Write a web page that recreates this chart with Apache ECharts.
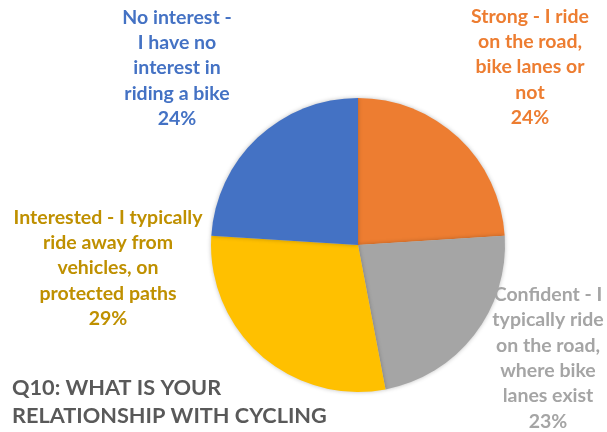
<!DOCTYPE html>
<html>
<head>
<meta charset="utf-8">
<script src="https://cdn.jsdelivr.net/npm/echarts@6/dist/echarts.min.js"></script>
<style>
  html, body { margin: 0; padding: 0; background: #fff; }
  #chart { width: 607px; height: 432px; }
</style>
</head>
<body>
<div id="chart"></div>
<script>
// slices, clockwise from 12 o'clock
const categories = [
  'Strong - I ride\non the road,\nbike lanes or\nnot',
  'Confident - I\ntypically ride\non the road,\nwhere bike\nlanes exist',
  'Interested - I typically\nride away from\nvehicles, on\nprotected paths',
  'No interest -\nI have no\ninterest in\nriding a bike'
]
const values = [24, 23, 29, 24]
const sliceColors = ['#ED7D31', '#A5A5A5', '#FFC000', '#4472C4']
const labelColors = ['#ED7D31', '#A5A5A5', '#BF9000', '#4472C4']
// label block centres
const labelPos = [[530, 67], [548, 358], [108, 268], [177, 68]]

let chartsInstance = echarts.init(document.getElementById('chart'))

let option = {
  animation: false,
  title: {
    text: 'Q10: WHAT IS YOUR\nRELATIONSHIP WITH CYCLING',
    left: 7,
    top: 369,
    textStyle: {
      color: '#595959',
      fontFamily: 'Lato',
      fontWeight: 'bold',
      fontSize: 21.7,
      lineHeight: 28
    }
  },
  series: [
    {
      type: 'pie',
      center: [358, 245],
      radius: 147,
      startAngle: 90,
      clockwise: true,
      avoidLabelOverlap: false,
      itemStyle: {
        shadowBlur: 4,
        shadowColor: 'rgba(0,0,0,0.25)'
      },
      labelLine: { show: false },
      label: {
        show: true,
        position: 'outside',
        formatter: p => p.name + '\n' + p.value + '%',
        fontFamily: 'Lato',
        fontWeight: 'bold',
        fontSize: 19.5,
        lineHeight: 25.3,
        align: 'center'
      },
      labelLayout: params => {
        const p = labelPos[params.dataIndex]
        return {
          x: p[0],
          y: p[1],
          align: 'center',
          verticalAlign: 'middle'
        }
      },
      data: categories.map((name, i) => ({
        name: name,
        value: values[i],
        itemStyle: { color: sliceColors[i] },
        label: { color: labelColors[i] }
      }))
    }
  ]
}

chartsInstance.setOption(option)
</script>
</body>
</html>
